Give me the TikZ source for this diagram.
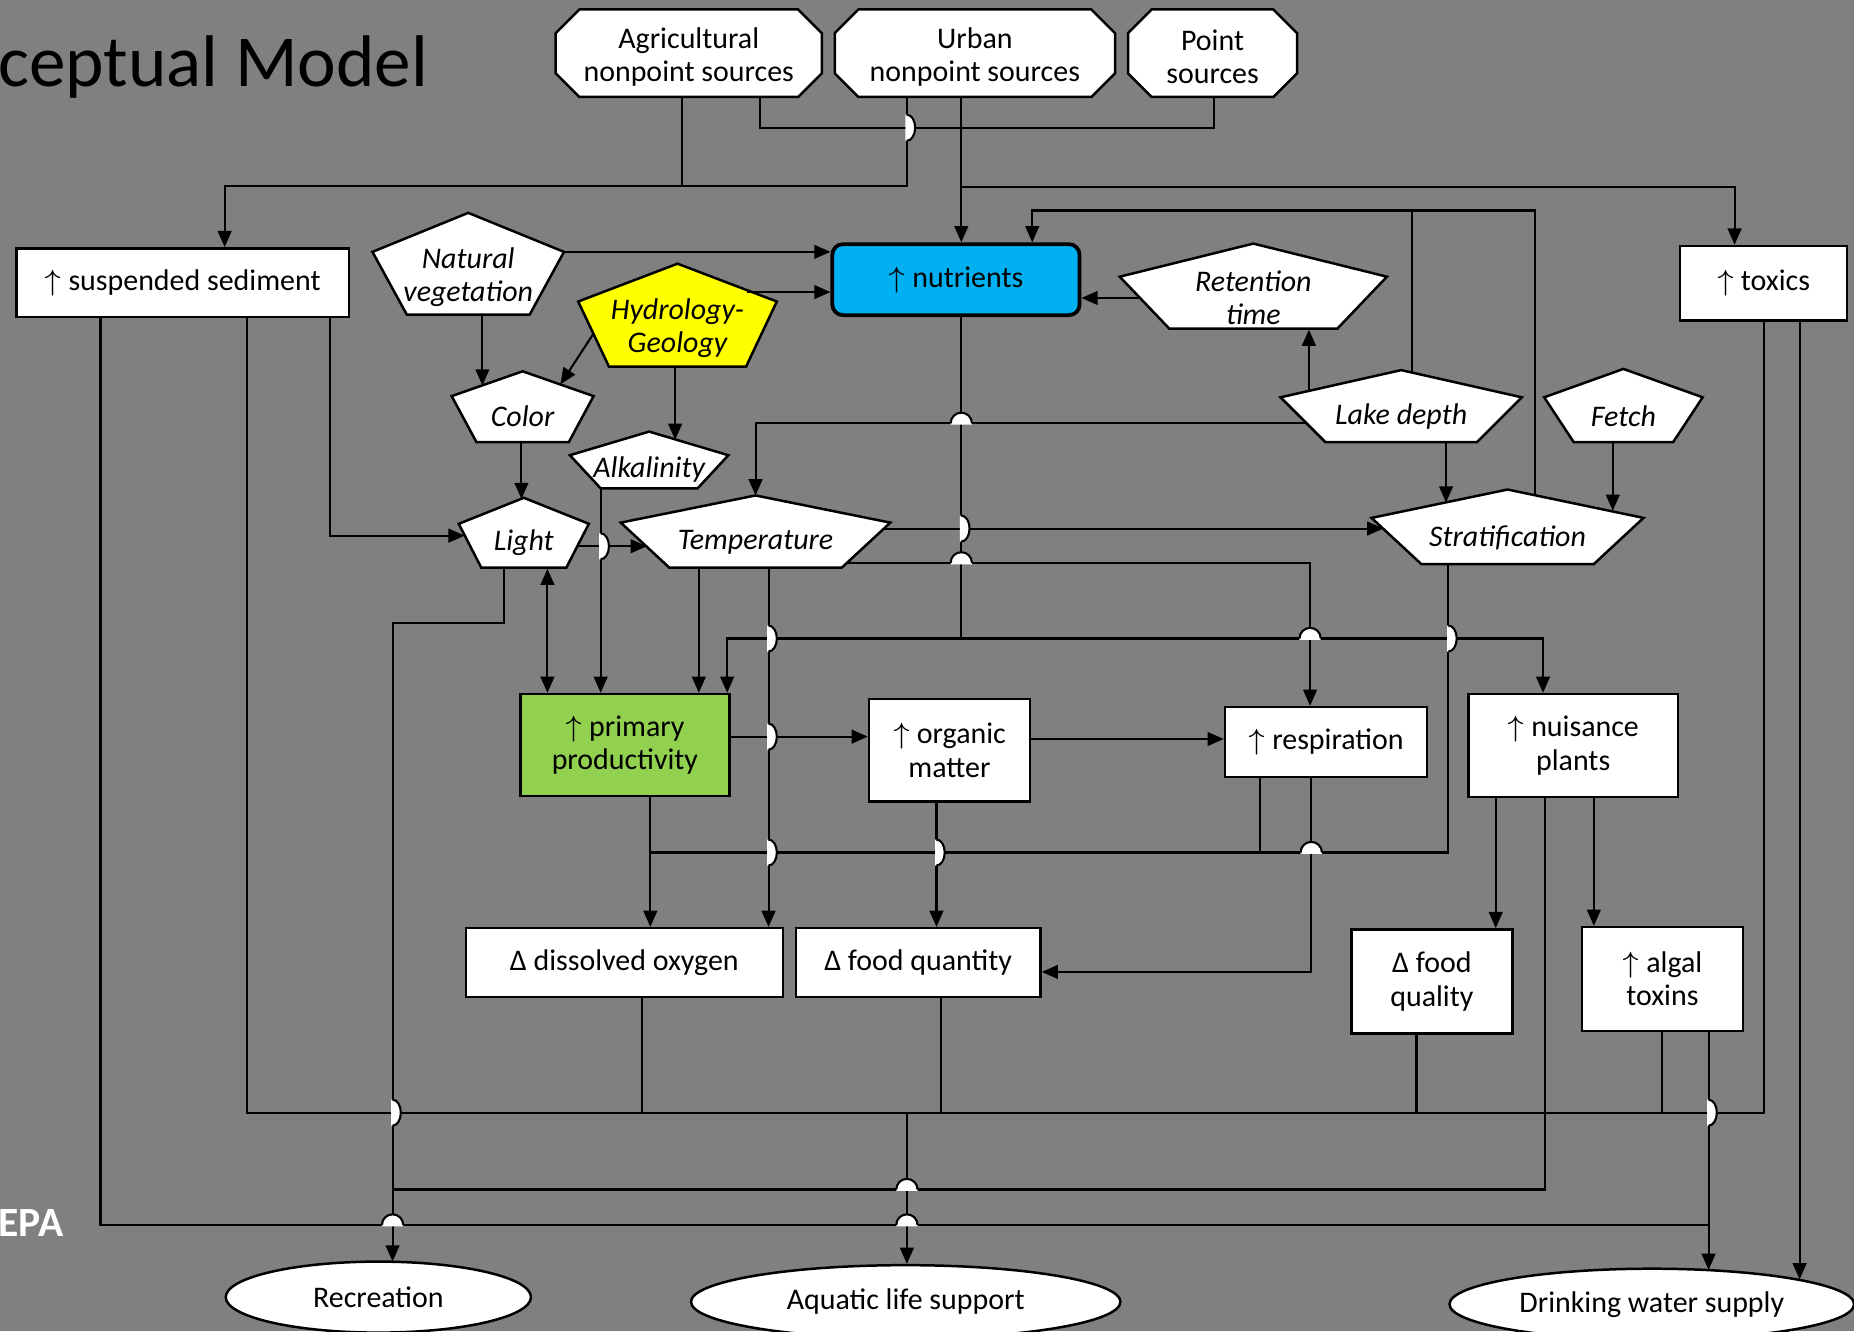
\documentclass[tikz,border=0pt]{standalone}
\usepackage{fontspec}
\setmainfont{Carlito}
\usetikzlibrary{arrows.meta,shapes.geometric}
\definecolor{bg}{HTML}{808080}
\definecolor{nutblue}{HTML}{00B0F0}
\definecolor{prodgreen}{HTML}{92D050}
\definecolor{hydyellow}{HTML}{FFFF00}
\newcommand{\lbl}{\fontsize{7.2}{8}\selectfont}
\tikzset{
  ln/.style={line width=0.5pt, draw=black},
  arr/.style={ln, -{Triangle[length=3.9pt,width=3.3pt]}},
  dbl/.style={ln, {Triangle[length=3.9pt,width=3.3pt]}-{Triangle[length=3.9pt,width=3.3pt]}},
  box/.style={draw=black, line width=0.6pt, fill=white, inner sep=0pt, align=center, font=\lbl},
  shp/.style={draw=black, line width=0.6pt},
  txt/.style={inner sep=0pt, align=center, font=\lbl},
  ptxt/.style={inner sep=0pt, align=center, font=\lbl\itshape},
  ell/.style={ellipse, draw=black, line width=0.6pt, fill=white, inner sep=0pt, font=\lbl},
}
% chamfered source box: name x1 y1 x2 y2 text
\newcommand{\octo}[6]{%
  \draw[shp,fill=white] ({#2+20},#3) -- ({#4-20},#3) -- (#4,{#3+20}) -- (#4,{#5-20}) -- ({#4-20},#5) -- ({#2+20},#5) -- (#2,{#5-20}) -- (#2,{#3+20}) -- cycle;
  \node[txt, minimum width={(#4-#2)*0.01cm}, minimum height={(#5-#3-6)*0.01cm}] (#1) at ({(#2+#4)/2},{(#3+#5)/2+3}) {#6};
}
% rectangle: [fill] name x1 y1 x2 y2 text
\newcommand{\bx}[7][white]{%
  \node[box, fill=#1, minimum width={(#5-#3)*0.01cm}, minimum height={(#6-#4)*0.01cm}] (#2) at ({(#3+#5)/2},{(#4+#6)/2}) {#7};
}
% pentagon: [fill] name cx yApex yShoulder yBottom halfW halfBottomW text
\newcommand{\pent}[9][white]{%
  \draw[shp,fill=#1] (#3,#4) -- ({#3+#7},#5) -- ({#3+#8},#6) -- ({#3-#8},#6) -- ({#3-#7},#5) -- cycle;
  \node[ptxt, minimum width={2*#7*0.01cm}, minimum height={(#6-(#4+#5)/2-6)*0.01cm}] (#2) at (#3,{((#4+#5)/2+#6)/2+3}) {#9};
}
% horizontal line hops over a vertical one (dome)
\newcommand{\hj}[2]{%
  \fill[white] ({#1-9},{#2+1.2}) -- ({#1-9},#2) arc[start angle=180,end angle=0,radius=0.09cm] -- ({#1+9},{#2+1.2}) -- cycle;
  \draw[ln] ({#1-9},#2) arc[start angle=180,end angle=0,radius=0.09cm];
}
% vertical line hops over a horizontal one (bulge right)
\newcommand{\vj}[2]{%
  \fill[white] ({#1-1.2},{#2-11}) -- (#1,{#2-11}) arc[start angle=90,end angle=-90,x radius=0.07cm,y radius=0.11cm] -- ({#1-1.2},{#2+11}) -- cycle;
  \draw[ln] (#1,{#2-11}) arc[start angle=90,end angle=-90,x radius=0.07cm,y radius=0.11cm];
}
\begin{document}
\begin{tikzpicture}[x=0.01cm,y=-0.01cm]
\useasboundingbox (0,0) rectangle (1568,1126);
\fill[bg] (0,0) rectangle (1568,1126);

% title texts
\node[anchor=base west, inner sep=0pt, font=\fontsize{17.6}{20}\selectfont] (title) at (-2,73) {ceptual Model};
\node[anchor=base west, inner sep=0pt, font=\fontsize{10}{12}\selectfont\bfseries, text=white] (epa) at (-2,1046) {EPA};

% sources
\octo{agri}{470}{8}{695}{82}{Agricultural\\nonpoint sources}
\octo{urban}{706}{8}{943}{82}{Urban\\nonpoint sources}
\octo{point}{954}{8}{1097}{82}{Point\\sources}

% boxes
\bx{sed}{14}{210}{295}{268}{$\uparrow$ suspended sediment}
\bx{tox}{1421}{208}{1562}{271}{$\uparrow$ toxics}
\node[box, fill=nutblue, rounded corners=0.09cm, line width=0.9pt, minimum width=2.09cm, minimum height=0.6cm] (nut) at (808.5,236.5) {$\uparrow$ nutrients};
\bx[prodgreen]{prim}{440}{587}{617}{673}{$\uparrow$ primary\\productivity}
\bx{org}{735}{591}{871}{678}{$\uparrow$ organic\\matter}
\bx{resp}{1036}{598}{1207}{657}{$\uparrow$ respiration}
\bx{nuis}{1242}{587}{1419}{674}{$\uparrow$ nuisance\\plants}
\bx{dox}{394}{785}{662}{843}{Δ dissolved oxygen}
\bx{fqn}{673}{785}{880}{843}{Δ food quantity}
\bx{fql}{1143}{786}{1279}{874}{Δ food\\quality}
\bx{alg}{1338}{784}{1474}{872}{$\uparrow$ algal\\toxins}

% pentagons
\pent{natveg}{396}{180}{213}{266}{81}{52}{Natural\\vegetation}
\pent[hydyellow]{hydro}{573}{223}{255}{310}{84}{58}{Hydrology-\\Geology}
\pent{ret}{1060}{206}{234}{278}{113}{71}{Retention\\time}
\pent{colr}{442}{314}{335}{374}{60}{39}{Color}
\pent{alk}{549}{365}{385}{413}{67}{41}{Alkalinity}
\pent{lake}{1185}{313}{336}{374}{102}{64}{Lake depth}
\pent{fetch}{1373}{312}{336}{374}{67}{42}{Fetch}
\pent{light}{443}{421}{443}{480}{55}{36}{Light}
\pent{temp}{639}{419}{442}{480}{114}{73}{Temperature}
\pent{strat}{1275}{414}{438}{477}{115}{73}{Stratification}

% ellipses
\node[ell, minimum width=2.58cm, minimum height=0.60cm] (rec) at (320,1097) {Recreation};
\node[ell, minimum width=3.63cm, minimum height=0.62cm] (aqu) at (766,1101) {Aquatic life support};
\node[ell, minimum width=3.42cm, minimum height=0.60cm] (drink) at (1397,1103) {Drinking water supply};

% ---- connectors ----
% sources
\draw[ln] (agri.south -| 643,0) -- (643,108) -- (1027,108) -- (point.south -| 1027,0);
\draw[arr] (urban.south -| 813,0) -- (nut.north -| 813,0);
\draw[ln] (urban.south -| 767,0) -- (767,157) -- (577,157);
\draw[arr] (agri.south -| 577,0) -- (577,157) -- (190,157) -- (sed.north -| 190,0);
\draw[arr] (813,158) -- (1467,158) -- (tox.north -| 1467,0);

% into nutrients
\draw[arr] (natveg.east |- 0,213) -- (nut.west |- 0,213);
\draw[arr] (632,247) -- (nut.west |- 0,247);
\draw[arr] (964,252) -- (nut.east |- 0,252);
\draw[arr] (1107,331) -- (ret.south -| 1107,0);
\draw[arr] (1194,315) -- (1194,178) -- (873,178) -- (nut.north -| 873,0);
\draw[ln] (1298,419) -- (1298,178) -- (1194,178);

% physical drivers
\draw[arr] (natveg.south -| 408,0) -- (408,326);
\draw[arr] (502,282) -- (474,325);
\draw[arr] (hydro.south -| 571,0) -- (571,372);
\draw[arr] (colr.south -| 441,0) -- (441,422);
\draw[arr] (sed.south -| 279,0) -- (279,453) -- (393,453);
\draw[arr] (488,462) -- (547,462);
\draw[dbl] (463,481) -- (prim.north -| 463,0);
\draw[arr] (light.south -| 426,0) -- (426,527) -- (332,527) -- (332,1067);
\draw[arr] (alk.south -| 508,0) -- (prim.north -| 508,0);
\draw[arr] (temp.south -| 591,0) -- (prim.north -| 591,0);
\draw[arr] (temp.south -| 650,0) -- (dox.north -| 650,0);
\draw[arr] (748,447) -- (1170,447);
\draw[arr] (716,476) -- (1108,476) -- (resp.north -| 1108,0);
\draw[arr] (1105,358) -- (639,358) -- (639,419);
\draw[arr] (lake.south -| 1223,0) -- (1223,425);
\draw[arr] (fetch.south -| 1364,0) -- (1364,432);

% nutrients downstream
\draw[ln] (nut.south -| 813,0) -- (813,540);
\draw[arr] (813,540) -- (615,540) -- (prim.north -| 615,0);
\draw[arr] (813,540) -- (1305,540) -- (nuis.north -| 1305,0);
\draw[arr] (prim.east |- 0,623) -- (org.west |- 0,623);
\draw[arr] (org.east |- 0,625) -- (resp.west |- 0,625);
\draw[arr] (prim.south -| 550,0) -- (dox.north -| 550,0);
\draw[ln] (strat.south -| 1225,0) -- (1225,721) -- (550,721);
\draw[ln] (resp.south -| 1066,0) -- (1066,721);
\draw[arr] (resp.south -| 1109,0) -- (1109,822) -- (fqn.east |- 0,822);
\draw[arr] (org.south -| 792,0) -- (fqn.north -| 792,0);
\draw[arr] (nuis.south -| 1265,0) -- (fql.north -| 1265,0);
\draw[arr] (nuis.south -| 1348,0) -- (alg.north -| 1348,0);

% to uses
\draw[ln] (nuis.south -| 1307,0) -- (1307,1006) -- (332,1006);
\draw[ln] (sed.south -| 209,0) -- (209,941) -- (1492,941) -- (tox.south -| 1492,0);
\draw[ln] (dox.south -| 543,0) -- (543,941);
\draw[ln] (fqn.south -| 796,0) -- (796,941);
\draw[ln] (fql.south -| 1198,0) -- (1198,941);
\draw[ln] (alg.south -| 1406,0) -- (1406,941);
\draw[arr] (767,941) -- (aqu.north -| 767,0);
\draw[ln] (sed.south -| 85,0) -- (85,1036) -- (1445,1036);
\draw[arr] (alg.south -| 1445,0) -- (1445,1074);
\draw[arr] (tox.south -| 1522,0) -- (1522,1082);

% line jumps
\vj{767}{108}
\hj{813}{358}
\vj{813}{447}
\hj{813}{476}
\vj{508}{462}
\vj{650}{540}
\hj{1108}{540}
\vj{1225}{540}
\vj{650}{623}
\vj{650}{721}
\vj{792}{721}
\hj{1109}{721}
\vj{332}{941}
\vj{1445}{941}
\hj{767}{1006}
\hj{332}{1036}
\hj{767}{1036}
\end{tikzpicture}
\end{document}
